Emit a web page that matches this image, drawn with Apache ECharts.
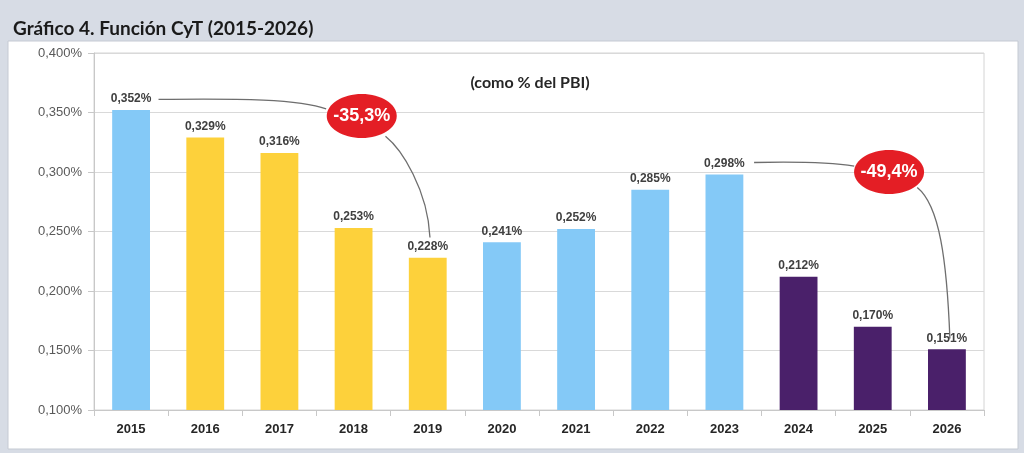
<!DOCTYPE html>
<html>
<head>
<meta charset="utf-8">
<script src="https://cdn.jsdelivr.net/npm/echarts@6/dist/echarts.min.js"></script>
<style>
  html, body { margin: 0; padding: 0; background: #d7dce5; }
  #chart { width: 1024px; height: 453px; }
</style>
</head>
<body>
<div id="chart"></div>
<script>
// data
const years = ['2015', '2016', '2017', '2018', '2019', '2020', '2021', '2022', '2023', '2024', '2025', '2026'];
const values = [0.352, 0.329, 0.316, 0.253, 0.228, 0.241, 0.252, 0.285, 0.298, 0.212, 0.170, 0.151];
const groups = ['blue', 'yellow', 'yellow', 'yellow', 'yellow', 'blue', 'blue', 'blue', 'blue', 'purple', 'purple', 'purple'];
const yTicks = [0.10, 0.15, 0.20, 0.25, 0.30, 0.35, 0.40];

// callouts: [category position, value]
const drops = [
    {
        text: '-35,3%',
        center: [3.11, 0.347],
        lineA: [[0.37, 0.361], [1.47, 0.362], [2.28, 0.361], [2.63, 0.353]],
        lineB: [[3.43, 0.330], [3.65, 0.319], [4.0, 0.285], [4.03, 0.245]]
    },
    {
        text: '-49,4%',
        center: [10.22, 0.300],
        lineA: [[8.40, 0.308], [9.14, 0.309], [9.55, 0.307], [9.75, 0.305]],
        lineB: [[10.6, 0.287], [10.9, 0.272], [11.0, 0.226], [11.04, 0.160]]
    }
];

const colors = { blue: '#84c9f7', yellow: '#fdd13b', purple: '#4a206a' };

function fmt(v) {
    return v.toFixed(3).replace('.', ',') + '%';
}

const chart = echarts.init(document.getElementById('chart'));

const option = {
    backgroundColor: '#d7dce5',
    animation: false,
    title: [
        {
            text: 'Gráfico 4. Función CyT (2015-2026)',
            left: 8, top: 14,
            textStyle: { fontFamily: 'Lato', fontWeight: 'bold', fontSize: 19, color: '#1a1a1a' }
        },
        {
            text: '(como % del PBI)',
            left: 525, top: 70, textAlign: 'center',
            textStyle: { fontFamily: 'Lato', fontWeight: 'bold', fontSize: 16, color: '#262626' }
        }
    ],
    grid: { left: 94, right: 40, top: 53, bottom: 43, show: true, borderColor: '#d4d4d4', borderWidth: 1 },
    xAxis: {
        type: 'category',
        data: years,
        axisLine: { lineStyle: { color: '#c8c8c8' } },
        axisTick: { show: true, length: 6, lineStyle: { color: '#c8c8c8' } },
        axisLabel: { color: '#262626', fontFamily: 'Arial', fontWeight: 'bold', fontSize: 13, margin: 13 }
    },
    yAxis: {
        type: 'value',
        min: yTicks[0], max: yTicks[yTicks.length - 1], interval: 0.05,
        axisLine: { show: true, lineStyle: { color: '#c8c8c8' } },
        axisTick: { show: true, length: 6, lineStyle: { color: '#c8c8c8' } },
        splitLine: { lineStyle: { color: '#d9d9d9' } },
        axisLabel: { color: '#595959', fontFamily: 'Arial', fontSize: 13, margin: 12, formatter: v => fmt(v) }
    },
    series: [{
        type: 'bar',
        barWidth: '51%',
        data: values.map((v, i) => ({ value: v, itemStyle: { color: colors[groups[i]] } })),
        label: {
            show: true, position: 'top', distance: 5,
            fontFamily: 'Arial', fontWeight: 'bold', fontSize: 12, color: '#404040',
            formatter: p => fmt(p.value)
        }
    }]
};

chart.setOption(option);

// callouts positioned through the axes
function toPx(pt) {
    const x0 = chart.convertToPixel({ xAxisIndex: 0 }, 0);
    const x1 = chart.convertToPixel({ xAxisIndex: 0 }, 1);
    const y = chart.convertToPixel({ yAxisIndex: 0 }, pt[1]);
    return [x0 + pt[0] * (x1 - x0), y];
}

function curve(pts) {
    const p = pts.map(toPx);
    return {
        type: 'bezierCurve', silent: true,
        shape: { x1: p[0][0], y1: p[0][1], cpx1: p[1][0], cpy1: p[1][1], cpx2: p[2][0], cpy2: p[2][1], x2: p[3][0], y2: p[3][1] },
        style: { stroke: '#6e6e6e', lineWidth: 1.3, fill: null }
    };
}

const elements = [{
    type: 'rect', z: -10, silent: true,
    shape: { x: 8, y: 41, width: 1010, height: 408 },
    style: { fill: '#ffffff', stroke: '#c5cad3', lineWidth: 1 }
}];
drops.forEach(d => {
    const c = toPx(d.center);
    elements.push(curve(d.lineA));
    elements.push(curve(d.lineB));
    elements.push({
        type: 'ellipse', z: 10, silent: true,
        shape: { cx: c[0], cy: c[1], rx: 35, ry: 22 },
        style: { fill: '#e41e25' }
    });
    elements.push({
        type: 'text', z: 11, silent: true,
        x: c[0], y: c[1],
        style: { text: d.text, fill: '#ffffff', font: 'bold 18px Arial', align: 'center', verticalAlign: 'middle' }
    });
});
chart.setOption({ graphic: elements });
</script>
</body>
</html>
